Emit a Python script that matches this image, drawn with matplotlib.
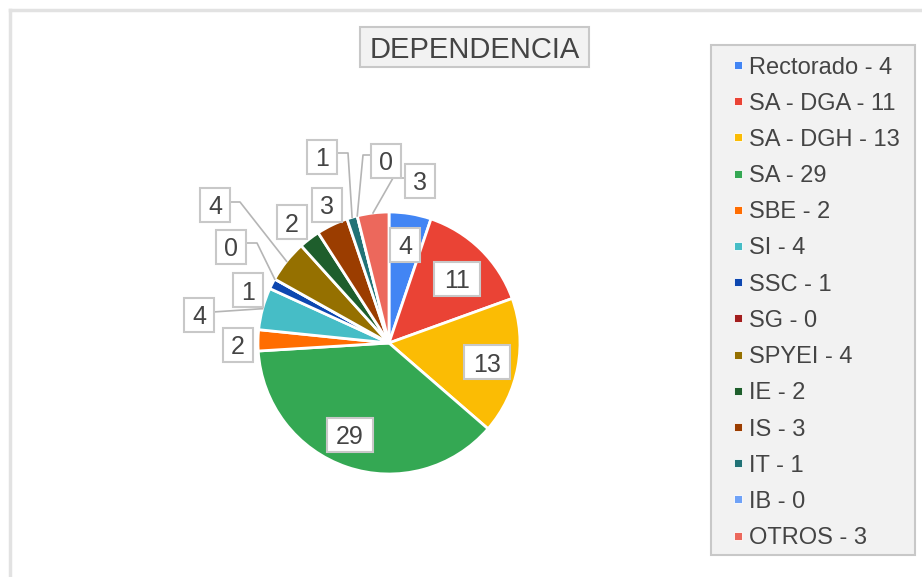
"""Pie chart: DEPENDENCIA (Google-Sheets look)."""
import numpy as np
import matplotlib.pyplot as plt
from matplotlib.patches import Rectangle
from matplotlib.lines import Line2D

plt.rcParams["font.family"] = ["Liberation Sans", "DejaVu Sans"]

W, H = 922, 577
TEXT = "#444444"

categories = ["Rectorado", "SA - DGA", "SA - DGH", "SA", "SBE", "SI", "SSC",
              "SG", "SPYEI", "IE", "IS", "IT", "IB", "OTROS"]
counts = [4, 11, 13, 29, 2, 4, 1, 0, 4, 2, 3, 1, 0, 3]
colors = ["#4285F4", "#EA4335", "#FBBC04", "#34A853", "#FF6D01", "#46BDC6",
          "#0D47B0", "#A21D1D", "#957000", "#1E5E2C", "#9B3D00", "#217276",
          "#6FA2F7", "#EC685C"]

# label box centres (pixel coords), line anchor on box, elbow point
label_pos = [(405, 245), (457, 279), (487, 362), (350, 435), (238, 345),
             (199, 315), (248, 290), (231, 247), (215, 205), (292, 222),
             (327, 205), (322, 157), (386, 161), (420, 181)]
leaders = {5: ((213, 312), None),
           7: ((246, 243), (257, 243)),
           8: ((230, 202), (240, 202)),
           11: ((338, 153), (348, 153)),
           12: ((370, 155), (363, 155)),
           13: ((405, 178), (393, 178))}

CX, CY, R = 389, 343, 131


def Y(y):
    return H - y


fig = plt.figure(figsize=(W / 100, H / 100), dpi=100)
ax = fig.add_axes([0, 0, 1, 1])

wedges, _ = ax.pie(counts, colors=colors, startangle=90, counterclock=False,
                   center=(CX, Y(CY)), radius=R,
                   wedgeprops=dict(edgecolor="white", linewidth=2))
ax.set_aspect("auto")
ax.set_xlim(0, W)
ax.set_ylim(0, H)
ax.axis("off")

# leader lines
for i, (anchor, elbow) in leaders.items():
    w = wedges[i]
    a = np.deg2rad((w.theta1 + w.theta2) / 2)
    ex, ey = w.center[0] + w.r * np.cos(a), w.center[1] + w.r * np.sin(a)
    pts = [anchor] + ([elbow] if elbow else [])
    xs = [p[0] for p in pts] + [ex]
    ys = [Y(p[1]) for p in pts] + [ey]
    ax.plot(xs, ys, color="#b5b5b5", lw=1.2, zorder=3)

# value boxes
for v, (x, y) in zip(counts, label_pos):
    txt = str(v)
    bw = 14 + 16 * len(txt)
    ax.add_patch(Rectangle((x - bw / 2, Y(y) - 17), bw, 34, facecolor="white",
                           edgecolor="#c8c8c8", lw=1.5, zorder=4))
    ax.text(x, Y(y), txt, ha="center", va="center_baseline", fontsize=18,
            color=TEXT, zorder=5)

# title
ax.add_patch(Rectangle((360, Y(67)), 229, 40, facecolor="#f2f2f2",
                       edgecolor="#c8c8c8", lw=1.5, zorder=4))
ax.text(474.5, Y(47), "DEPENDENCIA", ha="center", va="center_baseline",
        fontsize=21, color=TEXT, zorder=5)

# legend
ax.add_patch(Rectangle((711, Y(555)), 204, 510, facecolor="#f2f2f2",
                       edgecolor="#c8c8c8", lw=1.5, zorder=4))
for k, (cat, v, c) in enumerate(zip(categories, counts, colors)):
    yy = 65 + k * 36.2
    ax.add_patch(Rectangle((734, Y(yy) - 4), 8, 8, facecolor=c,
                           edgecolor="white", lw=0.6, zorder=5))
    ax.text(749, Y(yy), f"{cat} - {v}", ha="left", va="center_baseline",
            fontsize=17, color=TEXT, zorder=5)

# chart frame
fig.add_artist(Line2D([10 / W, 10 / W], [0, 1 - 10 / H], color="#e2e2e2",
                      lw=2.5, transform=fig.transFigure))
fig.add_artist(Line2D([10 / W, 1], [1 - 10 / H, 1 - 10 / H], color="#e2e2e2",
                      lw=2.5, transform=fig.transFigure))

fig.savefig("out.png", dpi=100, facecolor="white")
